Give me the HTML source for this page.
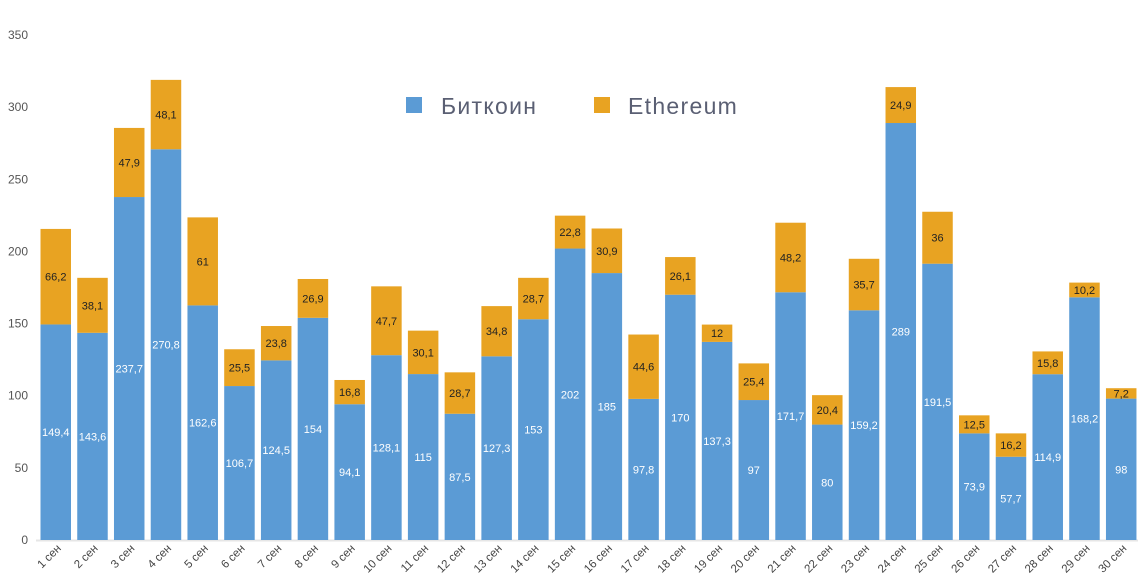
<!DOCTYPE html>
<html><head><meta charset="utf-8"><style>
html,body{margin:0;padding:0;background:#fff;}
svg{display:block;font-family:"Liberation Sans",sans-serif;}
</style></head><body>
<svg id="c" width="1138" height="580" xmlns="http://www.w3.org/2000/svg"></svg>
<script>
const btc=[149.4,143.6,237.7,270.8,162.6,106.7,124.5,154,94.1,128.1,115,87.5,127.3,153,202,185,97.8,170,137.3,97,171.7,80,159.2,289,191.5,73.9,57.7,114.9,168.2,98];
const eth=[66.2,38.1,47.9,48.1,61,25.5,23.8,26.9,16.8,47.7,30.1,28.7,34.8,28.7,22.8,30.9,44.6,26.1,12,25.4,48.2,20.4,35.7,24.9,36,12.5,16.2,15.8,10.2,7.2];
const Y0=540,K=(540-35)/350;
const f=v=>String(v).replace('.',',');
let s='';
for(let i=0;i<=7;i++){const y=Y0-i*50*K;s+=`<text x="28" y="${y+4}" text-anchor="end" font-size="12" fill="#555">${i*50}</text>`;}
s+=`<line x1="36" y1="540.5" x2="1138" y2="540.5" stroke="#e6e6e6" stroke-width="2"/>`;
for(let i=0;i<30;i++){
 const x=40.5+i*36.74,w=30.5,cx=x+w/2;
 const hb=btc[i]*K,he=eth[i]*K;
 const yb=Y0-hb,ye=yb-he;
 s+=`<rect x="${x}" y="${yb}" width="${w}" height="${hb}" fill="#5b9bd5"/>`;
 s+=`<rect x="${x}" y="${ye}" width="${w}" height="${he}" fill="#e8a322"/>`;
 s+=`<text x="${cx}" y="${yb+hb/2+4}" text-anchor="middle" font-size="11" fill="#fff">${f(btc[i])}</text>`;
 s+=`<text x="${cx}" y="${ye+he/2+4}" text-anchor="middle" font-size="11" fill="#222">${f(eth[i])}</text>`;
 s+=`<text transform="translate(${cx+6},549) rotate(-45)" text-anchor="end" font-size="11.5" fill="#444">${i+1} сен</text>`;
}
s+=`<rect x="406" y="97" width="16" height="16" fill="#5b9bd5"/><text x="441" y="114" font-size="23" letter-spacing="1.3" fill="#5a5f73">Биткоин</text>`;
s+=`<rect x="594" y="97" width="16" height="16" fill="#e8a322"/><text x="628" y="114" font-size="23" letter-spacing="1.3" fill="#5a5f73">Ethereum</text>`;
document.getElementById('c').innerHTML=s;
</script>
</body></html>
